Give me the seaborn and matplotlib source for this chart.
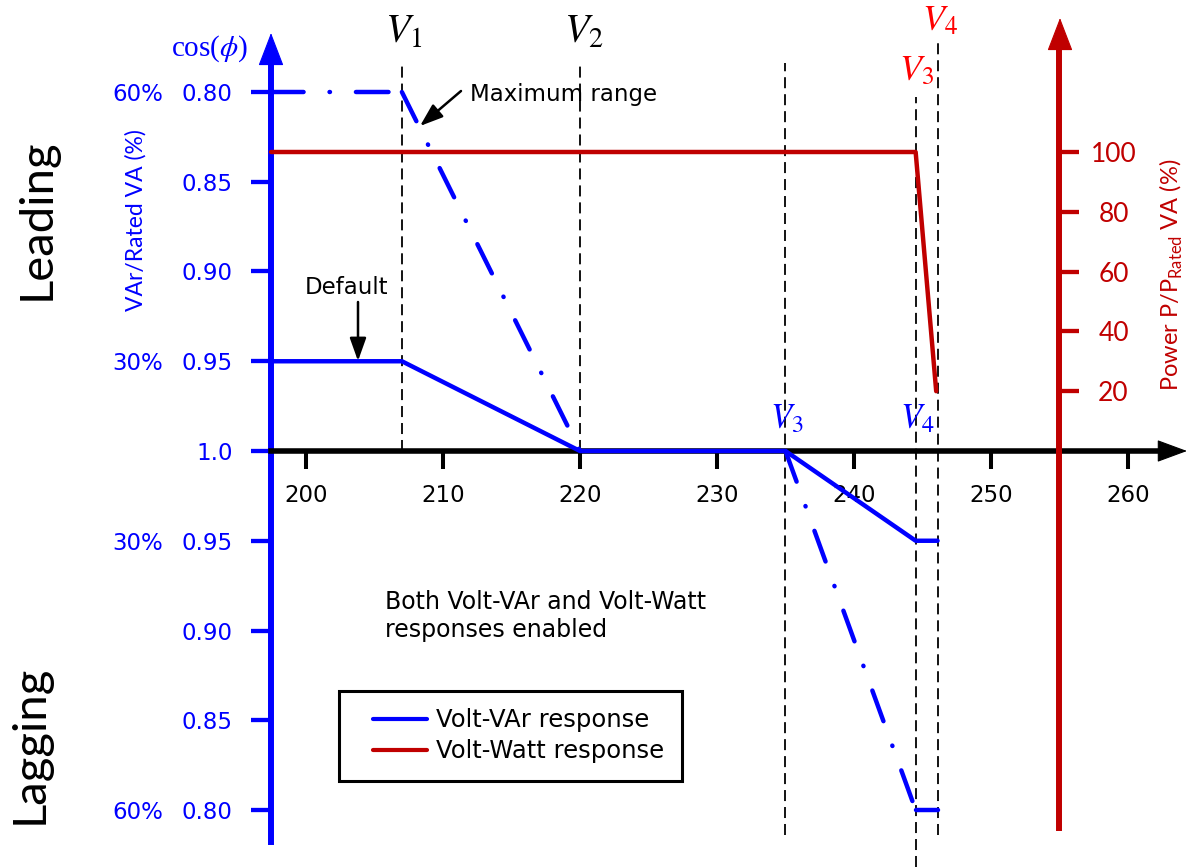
import matplotlib
matplotlib.use("Agg")
import matplotlib.pyplot as plt
import matplotlib.transforms as mtransforms
from matplotlib.lines import Line2D
from matplotlib.legend_handler import HandlerLine2D
from matplotlib.patches import ArrowStyle
import seaborn as sns

# ---------------- data ----------------
voltage_ticks = [200, 210, 220, 230, 240, 250, 260]
pf_positions = [4, 3, 2, 1, 0, -1, -2, -3, -4]
pf_labels = ["0.80", "0.85", "0.90", "0.95", "1.0", "0.95", "0.90", "0.85", "0.80"]
var_pct_positions = [4, 1, -1, -4]
var_pct_labels = ["60%", "30%", "30%", "60%"]
power_ticks = [20, 40, 60, 80, 100]

v_axis = 197.45      # voltage where the cos(phi) axis stands
v_p_axis = 255.0     # voltage where the power axis stands
V1, V2, V3, V4 = 207.0, 220.0, 235.0, 244.5
V3_w, V4_w = 244.5, 246.1

default_v = [v_axis, V1, V2, V3, V4, V4_w]
default_q = [1, 1, 0, 0, -1, -1]
maxlead_v = [v_axis, V1, V2]
maxlead_q = [4, 4, 0]
maxlag_v = [V3, V4, V4_w]
maxlag_q = [0, -4, -4]
watt_v = [v_axis, V3_w, 246.0]
watt_p = [100, 100, 20]

guide_v = [V1, V2, V3, V4, V4_w]
guide_top = [4.32, 4.32, 4.32, 3.94, 4.55]
guide_bottom = [0.0, 0.0, -4.28, -4.64, -4.28]

# ---------------- style ----------------
sns.set_style("ticks")
plt.rcParams["font.family"] = ["DejaVu Sans"]
plt.rcParams["text.color"] = "black"
plt.rcParams["xtick.color"] = "black"
plt.rcParams["ytick.color"] = "black"
plt.rcParams["axes.labelcolor"] = "black"

BLUE = "#0000FF"
RED = "#C00000"
LRED = "#FF0000"

W, H = 1188, 867
fig = plt.figure(figsize=(W / 100, H / 100), dpi=100)
fig.patch.set_facecolor("white")
ax = fig.add_axes([0, 0, 1, 1])

PX_PER_V = 13.7
PX_PER_Q = 89.75
PX_PER_P = 2.99
Y_ZERO = 451
X0 = 200 - 306 / PX_PER_V
X1 = 200 + (W - 306) / PX_PER_V


def qy(py):
    return (Y_ZERO - py) / PX_PER_Q


def pw(py):
    return (Y_ZERO - py) / PX_PER_P


def vx(px):
    return 200 + (px - 306) / PX_PER_V


def F(px, py):
    return (px / W, 1 - py / H)


# ---------------- reactive power (cos phi) ----------------
ax.vlines(guide_v, guide_bottom, guide_top, colors="black", linewidth=1.3,
          linestyles=[(0, (6.1, 3.3))], zorder=1)

sns.lineplot(x=default_v, y=default_q, ax=ax, color=BLUE, linewidth=3.2,
             sort=False, estimator=None, legend=False, zorder=3)

DASHDOT = (0, (7.33, 5.84, 0.1, 5.84))
for seg_v, seg_q in [(maxlead_v, maxlead_q), (maxlag_v, maxlag_q)]:
    for i in range(len(seg_v) - 1):
        ax.plot(seg_v[i:i + 2], seg_q[i:i + 2], color=BLUE, lw=3.2,
                linestyle=DASHDOT, dash_capstyle="round", zorder=3)

ax.set_xlim(X0, X1)
ax.set_ylim(qy(H), qy(0))
ax.set_xlabel("")
ax.set_ylabel("")
ax.spines["top"].set_visible(False)
ax.spines["right"].set_visible(False)
ax.spines["left"].set_position(("data", v_axis))
ax.spines["left"].set_bounds(qy(842), qy(60))
ax.spines["left"].set_color(BLUE)
ax.spines["left"].set_linewidth(4.3)
ax.spines["bottom"].set_position(("data", 0))
ax.spines["bottom"].set_bounds(v_axis, vx(1165))
ax.spines["bottom"].set_color("black")
ax.spines["bottom"].set_linewidth(4.0)

ax.set_xticks(voltage_ticks)
ax.set_xticklabels([str(v) for v in voltage_ticks])
ax.tick_params(axis="x", bottom=True, direction="out", length=13, width=2.9,
               color="black", labelcolor="black", labelsize=16.5, pad=11)
ax.set_yticks(pf_positions)
ax.set_yticklabels(pf_labels)
ax.tick_params(axis="y", left=True, direction="out", length=14.4, width=3.1,
               color=BLUE, labelcolor=BLUE, labelsize=16.5, pad=13.2)

blend = mtransforms.blended_transform_factory(fig.transFigure, ax.transData)
for pos, lab in zip(var_pct_positions, var_pct_labels):
    ax.text(138 / W, pos, lab, transform=blend, ha="center", va="center_baseline",
            color=BLUE, fontsize=16.5)

# ---------------- active power ----------------
ax2 = ax.twinx()
ax2.set_position([0, 0, 1, 1])
sns.lineplot(x=watt_v, y=watt_p, ax=ax2, color=RED, linewidth=3.2,
             sort=False, estimator=None, legend=False, zorder=4)
ax2.set_xlim(X0, X1)
ax2.set_ylim(pw(H), pw(0))
ax2.set_xlabel("")
ax2.set_ylabel("")
for s in ["top", "left", "bottom"]:
    ax2.spines[s].set_visible(False)
ax2.spines["right"].set_position(("data", v_p_axis))
ax2.spines["right"].set_bounds(pw(828), pw(45))
ax2.spines["right"].set_color(RED)
ax2.spines["right"].set_linewidth(4.3)
ax2.set_yticks(power_ticks)
ax2.set_yticklabels([str(p) for p in power_ticks])
ax2.tick_params(axis="y", right=True, left=False, direction="out", length=14.4,
                width=3.1, color=RED, labelcolor=RED, labelsize=19, pad=24.5)
for lab in ax2.get_yticklabels():
    lab.set_fontfamily("Lato")
    lab.set_horizontalalignment("center")

# ---------------- axis arrow heads ----------------
def head(tip, base, color, hl, hw):
    ax2.annotate("", xy=(tip[0], H - tip[1]), xytext=(base[0], H - base[1]),
                 xycoords="figure pixels", textcoords="figure pixels",
                 arrowprops=dict(arrowstyle=ArrowStyle("-|>", head_length=hl, head_width=hw),
                                 color=color, lw=0.8, shrinkA=0, shrinkB=0,
                                 mutation_scale=1))


head((271, 33), (271, 63), BLUE, 21.6, 8.3)
head((1060, 18), (1060, 48), RED, 21.6, 8.3)
head((1187, 451), (1160, 451), "black", 19.5, 7.2)

# ---------------- annotations ----------------
arrow_small = dict(arrowstyle=ArrowStyle("-|>", head_length=14, head_width=5),
                   color="black", lw=1.8, shrinkA=0, shrinkB=0, mutation_scale=1)
ax2.annotate("", xy=(358, H - 361), xytext=(358, H - 302), xycoords="figure pixels",
             textcoords="figure pixels", arrowprops=arrow_small)
ax2.annotate("", xy=(420, H - 126), xytext=(461, H - 91), xycoords="figure pixels",
             textcoords="figure pixels", arrowprops=arrow_small)

fig.text(*F(470, 94), "Maximum range", ha="left", va="center", fontsize=16.5,
         color="black")
fig.text(*F(347, 287), "Default", ha="center", va="center", fontsize=16.5,
         color="black")
fig.text(*F(385, 616), "Both Volt-VAr and Volt-Watt\nresponses enabled",
         ha="left", va="center", fontsize=17, linespacing=1.2, color="black")

fig.text(*F(37, 219), "Leading", rotation=90, ha="center", va="center",
         fontsize=34, family="Lato", color="black")
fig.text(*F(30, 744), "Lagging", rotation=90, ha="center", va="center",
         fontsize=34, family="Lato", color="black")
fig.text(*F(136, 220), "VAr/Rated VA (%)", rotation=90, ha="center", va="center",
         fontsize=16.5, family="Lato", color=BLUE)
fig.text(*F(1171, 275), r"Power P/P$_{\mathregular{Rated}}$ VA (%)", rotation=90,
         ha="center", va="center", fontsize=17, family="Lato", color=RED)

fig.text(*F(210, 49), r"cos($\phi$)", ha="center", va="center", fontsize=21,
         family="Liberation Serif", math_fontfamily="stix", color=BLUE)

fig.text(*F(385, 43), r"$V_1$", ha="left", va="baseline", fontsize=29,
         math_fontfamily="stix", color="black")
fig.text(*F(564, 43), r"$V_2$", ha="left", va="baseline", fontsize=29,
         math_fontfamily="stix", color="black")
fig.text(*F(770, 428), r"$V_3$", ha="left", va="baseline", fontsize=25,
         math_fontfamily="stix", color=BLUE)
fig.text(*F(900, 428), r"$V_4$", ha="left", va="baseline", fontsize=25,
         math_fontfamily="stix", color=BLUE)
fig.text(*F(899, 80), r"$V_3$", ha="left", va="baseline", fontsize=26,
         math_fontfamily="stix", color=LRED)
fig.text(*F(922, 30), r"$V_4$", ha="left", va="baseline", fontsize=26,
         math_fontfamily="stix", color=LRED)

# ---------------- legend ----------------
handles = [Line2D([], [], color=BLUE, lw=3), Line2D([], [], color=RED, lw=3)]
leg = fig.legend(handles, ["Volt-VAr response", "Volt-Watt response"],
                 loc="upper left", bbox_to_anchor=F(339, 691),
                 bbox_transform=fig.transFigure, frameon=True, fancybox=False,
                 edgecolor="black", framealpha=1, fontsize=17.5, borderpad=0.72,
                 borderaxespad=0, handlelength=2.9, handletextpad=0.37,
                 labelspacing=0.27, handler_map={Line2D: HandlerLine2D(xpad=0.68)})
leg.get_frame().set_linewidth(2.2)
for t in leg.get_texts():
    t.set_color("black")

fig.savefig("out.png", dpi=100, facecolor="white")
